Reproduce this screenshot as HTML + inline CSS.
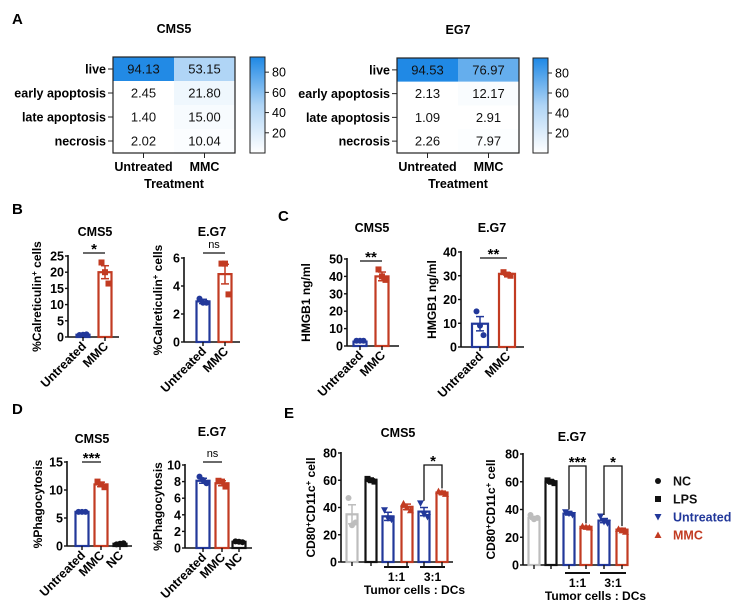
<!DOCTYPE html>
<html><head><meta charset="utf-8"><style>
body{margin:0;background:#fff}
svg{display:block;font-family:"Liberation Sans",Arial,sans-serif}
</style></head><body>
<svg id="fig" width="732" height="608" viewBox="0 0 732 608" xmlns="http://www.w3.org/2000/svg">
<g font-weight="bold" font-size="15">
<text x="12" y="24">A</text>
<text x="12" y="214">B</text>
<text x="278" y="221">C</text>
<text x="12" y="414">D</text>
<text x="284" y="418">E</text>
</g>
<g id="root"></g>
</svg>
<script>
// ---- Heatmap data ----
const hmRows = ["live","early apoptosis","late apoptosis","necrosis"];
const hmCols = ["Untreated","MMC"];
const hmCMS5 = [[94.13,53.15],[2.45,21.80],[1.40,15.00],[2.02,10.04]];
const hmEG7 = [[94.53,76.97],[2.13,12.17],[1.09,2.91],[2.26,7.97]];
const cbTicks = [20,40,60,80];

// ---- Bar chart data ----
const bCatsUM = ["Untreated","MMC"];
const bCMS5Means = [0.7,20];
const bCMS5Pts = [[0.6,0.7,0.8],[23,20,16.5]];
const bCMS5Sem = [0.1,2];
const bEG7Means = [2.9,4.85];
const bEG7Pts = [[3.1,2.8,2.8],[5.6,5.6,3.4]];
const bEG7Sem = [0.15,0.7];
const cCMS5Means = [2.5,40];
const cCMS5Pts = [[3,3,3],[44,40,38]];
const cCMS5Sem = [0.3,2.5];
const cEG7Means = [9.8,30.8];
const cEG7Pts = [[15,9,5],[31.5,30.5,30]];
const cEG7Sem = [3,0.5];
const dCats = ["Untreated","MMC","NC"];
const dCMS5Means = [6.1,11,0.4];
const dCMS5Pts = [[6.1,6.1,6.1],[11.5,11,10.5],[0.3,0.4,0.5]];
const dCMS5Sem = [0.05,0.4,0.1];
const dEG7Means = [8.1,7.8,0.75];
const dEG7Pts = [[8.6,8.2,7.8],[8.1,8,7.4],[0.8,0.75,0.7]];
const dEG7Sem = [0.3,0.3,0.05];
const eCats = ["NC","LPS","Untreated 1:1","MMC 1:1","Untreated 3:1","MMC 3:1"];
const eCMS5Means = [35,60,33.5,40.5,37,51];
const eCMS5Pts = [[47,27,29],[61,60,59],[38,32,31],[43,40,38],[43,35,33],[52,51,50]];
const eCMS5Sem = [7,1,3,2,3,1];
const eEG7Means = [34,60,37,27.5,32,25.5];
const eEG7Pts = [[36,33,34],[61,60,59],[38,37,36],[28,27.5,27],[35,31,30],[26,25,24]];
const eEG7Sem = [1,1,1,0.5,1.5,1];
const legendLabels = ["NC","LPS","Untreated","MMC"];

const NS="http://www.w3.org/2000/svg";
const root=document.getElementById('root');
function mk(tag,attrs,parent){const e=document.createElementNS(NS,tag);for(const k in attrs)e.setAttribute(k,attrs[k]);(parent||root).appendChild(e);return e;}
function txt(s,attrs,parent){const e=mk('text',attrs,parent);e.textContent=s;return e;}

const BLUE="#22389a",RED="#c23b22",GREY="#bdbdbd",BLK="#111";

function heatmap(name,data,g){
  const grp=mk('g',{});
  
  
  const rh=(g.y1-g.y0)/hmRows.length, cw=(g.x1-g.x0)/hmCols.length;
  const col=v=>{const t=Math.pow(Math.min(v/g.vmax,1),1.8);const r=Math.round(255+(30-255)*t),gg=Math.round(255+(136-255)*t),b=Math.round(255+(229-255)*t);return `rgb(${r},${gg},${b})`;};
  data.forEach((row,i)=>row.forEach((v,j)=>{
    const c=mk('rect',{x:g.x0+j*cw,y:g.y0+i*rh,width:cw,height:rh,fill:col(v)},grp);
    
    
    txt(v.toFixed(2),{x:g.x0+(j+0.5)*cw,y:g.y0+(i+0.5)*rh+4.5,'text-anchor':'middle','font-size':13,fill:'#111'},grp);
  }));
  mk('rect',{x:g.x0,y:g.y0,width:g.x1-g.x0,height:g.y1-g.y0,fill:'none',stroke:'#222','stroke-width':1.2},grp);
  hmRows.forEach((r,i)=>{const y=g.y0+(i+0.5)*rh;mk('line',{x1:g.x0-5,x2:g.x0,y1:y,y2:y,stroke:'#222'},grp);
    const t=txt(r,{x:g.x0-7,y:y+4.5,'text-anchor':'end','font-size':12.5,'font-weight':'bold'},grp);
    });
  hmCols.forEach((c,j)=>{const x=g.x0+(j+0.5)*cw;mk('line',{x1:x,x2:x,y1:g.y1,y2:g.y1+5,stroke:'#222'},grp);
    txt(c,{x:x,y:g.y1+18,'text-anchor':'middle','font-size':12.5,'font-weight':'bold'},grp);});
  txt('Treatment',{x:(g.x0+g.x1)/2,y:g.y1+35,'text-anchor':'middle','font-size':12.5,'font-weight':'bold'},grp);
  txt(g.title,{x:(g.x0+g.x1)/2,y:g.y0-24,'text-anchor':'middle','font-size':12.5,'font-weight':'bold'},grp);
  const id='cb'+name;
  const defs=mk('defs',{},grp);const lg=mk('linearGradient',{id:id,x1:0,y1:1,x2:0,y2:0},defs);
  mk('stop',{offset:0,'stop-color':'#fff'},lg);mk('stop',{offset:0.5,'stop-color':'rgb(175,212,245)'},lg);mk('stop',{offset:1,'stop-color':'rgb(30,136,229)'},lg);
  const cb=mk('rect',{x:g.cbx,y:g.y0,width:15,height:g.y1-g.y0,fill:`url(#${id})`,stroke:'#222'},grp);
  
  const sy=v=>g.y1-(v/g.vmax)*(g.y1-g.y0);
  cbTicks.forEach(t=>{mk('line',{x1:g.cbx+15,x2:g.cbx+19,y1:sy(t),y2:sy(t),stroke:'#222'},grp);
    txt(String(t),{x:g.cbx+22,y:sy(t)+4.5,'font-size':12.5},grp);});
}
heatmap('heatmap-cms5',hmCMS5,{x0:113,x1:235,y0:57,y1:153,cbx:250,vmax:95,title:'CMS5'});
heatmap('heatmap-eg7',hmEG7,{x0:397,x1:519,y0:58,y1:153,cbx:533,vmax:95,title:'EG7'});

function marker(kind,x,y,color,parent){
  let m;
  if(kind==='c') m=mk('circle',{cx:x,cy:y,r:3,fill:color},parent);
  else if(kind==='s') m=mk('rect',{x:x-3,y:y-3,width:6,height:6,fill:color},parent);
  else if(kind==='v') m=mk('path',{d:`M${x-3.5},${y-3}L${x+3.5},${y-3}L${x},${y+3.5}Z`,fill:color},parent);
  else m=mk('path',{d:`M${x-3.5},${y+3}L${x+3.5},${y+3}L${x},${y-3.5}Z`,fill:color},parent);
  return m;
}

function barChart(name,cats,means,pts,sems,g){
  const grp=mk('g',{});
  
  
  const sy=v=>g.y0-(v/g.ymax)*(g.y0-g.ytop);
  const ya=mk('line',{x1:g.ax,x2:g.ax,y1:g.ytop-1,y2:g.y0,stroke:'#111','stroke-width':1.6},grp);
  
  mk('line',{x1:g.ax,x2:g.xend,y1:g.y0,y2:g.y0,stroke:'#111','stroke-width':1.6},grp);
  g.ticks.forEach(t=>{mk('line',{x1:g.ax-3,x2:g.ax,y1:sy(t),y2:sy(t),stroke:'#111','stroke-width':1.4},grp);
    txt(String(t),{x:g.ax-4,y:sy(t)+4.5,'text-anchor':'end','font-size':12.5,'font-weight':'bold'},grp);});
  const yl=txt('',{transform:`translate(${g.ylx},${(g.ytop+g.y0)/2}) rotate(-90)`,'text-anchor':'middle','font-size':12,'font-weight':'bold'},grp);
  
  g.ylabel.forEach(p=>{const ts=mk('tspan',p[1]?{'baseline-shift':'super','font-size':8}:{},yl);ts.textContent=p[0];});
  cats.forEach((c,i)=>{
    const cx=g.cx[i],col=g.colors[i],w=g.bw;
    const bar=mk('rect',{x:cx-w/2,y:sy(means[i]),width:w,height:g.y0-sy(means[i]),fill:'#fff',stroke:col,'stroke-width':2.2},grp);
    
    
    const t1=sy(means[i]+sems[i]),t0=sy(means[i]-sems[i]);
    mk('line',{x1:cx,x2:cx,y1:t1,y2:t0,stroke:col,'stroke-width':1.5},grp);
    mk('line',{x1:cx-4,x2:cx+4,y1:t1,y2:t1,stroke:col,'stroke-width':1.5},grp);
    mk('line',{x1:cx-4,x2:cx+4,y1:t0,y2:t0,stroke:col,'stroke-width':1.5},grp);
    pts[i].forEach((v,k)=>{const m=marker(g.marks[i],cx+(k-1)*3.5,sy(v),col,grp);
      
      });
    mk('line',{x1:cx,x2:cx,y1:g.y0,y2:g.y0+4,stroke:'#111','stroke-width':1.4},grp);
    if(g.rotLabels){txt(c,{transform:`translate(${cx+4},${g.y0+10}) rotate(-45)`,'text-anchor':'end','font-size':12.5,'font-weight':'bold'},grp);}
  });
  if(g.title) txt(g.title,{x:g.tx,y:g.ty,'text-anchor':'middle','font-size':12.5,'font-weight':'bold'},grp);
  (g.sig||[]).forEach(s=>{
    const a=g.cx[s[0]],b=g.cx[s[1]];
    if(s[3]){mk('path',{d:`M${a},${sy(s[3][0])}V${s[4]}H${b}V${sy(s[3][1])}`,fill:'none',stroke:'#111','stroke-width':1.3},grp);}
    else mk('line',{x1:a,x2:b,y1:s[4],y2:s[4],stroke:'#111','stroke-width':1.3},grp);
    const ns=s[2]==='ns';
    txt(s[2],{x:(a+b)/2,y:ns?s[4]-5:s[4]+1,'text-anchor':'middle','font-size':ns?11:15,'font-weight':ns?'normal':'bold'},grp);
  });
  return grp;
}
const cal=[["%Calreticulin",0],["+",1],[" cells",0]];
const UM=[BLUE,RED],cs=['c','s'];
barChart('chart-b-cms5',bCatsUM,bCMS5Means,bCMS5Pts,bCMS5Sem,{ax:68,xend:119,ytop:256,y0:337,ymax:25,ticks:[0,5,10,15,20,25],cx:[83,105],bw:13,colors:UM,marks:cs,rotLabels:true,ylabel:cal,ylx:41,title:'CMS5',tx:95,ty:236,sig:[[0,1,'*',null,253]]});
barChart('chart-b-eg7',bCatsUM,bEG7Means,bEG7Pts,bEG7Sem,{ax:184,xend:240,ytop:258,y0:342,ymax:6,ticks:[0,2,4,6],cx:[203,225],bw:13,colors:UM,marks:cs,rotLabels:true,ylabel:cal,ylx:162,title:'E.G7',tx:212,ty:236,sig:[[0,1,'ns',null,253]]});
const hm=[["HMGB1 ng/ml",0]];
barChart('chart-c-cms5',bCatsUM,cCMS5Means,cCMS5Pts,cCMS5Sem,{ax:347,xend:399,ytop:259,y0:346,ymax:50,ticks:[0,10,20,30,40,50],cx:[360,382],bw:13,colors:UM,marks:cs,rotLabels:true,ylabel:hm,ylx:310,title:'CMS5',tx:372,ty:232,sig:[[0,1,'**',null,261]]});
barChart('chart-c-eg7',bCatsUM,cEG7Means,cEG7Pts,cEG7Sem,{ax:461,xend:524,ytop:252,y0:347,ymax:40,ticks:[0,10,20,30,40],cx:[480,507],bw:16,colors:UM,marks:cs,rotLabels:true,ylabel:hm,ylx:436,title:'E.G7',tx:492,ty:232,sig:[[0,1,'**',null,258]]});
const ph=[["%Phagocytosis",0]];
const D3=[BLUE,RED,BLK],dm=['c','s','c'];
barChart('chart-d-cms5',dCats,dCMS5Means,dCMS5Pts,dCMS5Sem,{ax:67,xend:132,ytop:462,y0:546,ymax:15,ticks:[0,5,10,15],cx:[82,101,120],bw:13,colors:D3,marks:dm,rotLabels:true,ylabel:ph,ylx:42,title:'CMS5',tx:92,ty:443,sig:[[0,1,'***',null,462]]});
barChart('chart-d-eg7',dCats,dEG7Means,dEG7Pts,dEG7Sem,{ax:185,xend:252,ytop:465,y0:548,ymax:10,ticks:[0,2,4,6,8,10],cx:[203,222,239],bw:13,colors:D3,marks:dm,rotLabels:true,ylabel:ph,ylx:162,title:'E.G7',tx:212,ty:436,sig:[[0,1,'ns',null,462]]});
const cd=[["CD80",0],["+",1],["CD11c",0],["+",1],[" cell",0]];
const E6=[GREY,BLK,BLUE,RED,BLUE,RED],em=['c','s','v','^','v','^'];
const e1=barChart('chart-e-cms5',eCats,eCMS5Means,eCMS5Pts,eCMS5Sem,{ax:341,xend:453,ytop:453,y0:562,ymax:80,ticks:[0,20,40,60,80],cx:[352,371,388,407,424,442],bw:11,colors:E6,marks:em,rotLabels:false,ylabel:cd,ylx:315,title:'CMS5',tx:398,ty:437,sig:[[4,5,'*',[45,54],465]]});
const e2=barChart('chart-e-eg7',eCats,eEG7Means,eEG7Pts,eEG7Sem,{ax:523,xend:628,ytop:454,y0:565,ymax:80,ticks:[0,20,40,60,80],cx:[534,551,569,586,604,622],bw:11,colors:E6,marks:em,rotLabels:false,ylabel:cd,ylx:495,title:'E.G7',tx:572,ty:441,sig:[[2,3,'***',[40,30],466],[4,5,'*',[36,28],466]]});
function ratioLabels(g,a,b,y){
  [[a,'1:1'],[b,'3:1']].forEach(p=>{mk('line',{x1:p[0][0],x2:p[0][1],y1:y,y2:y,stroke:'#111','stroke-width':2},g);
    txt(p[1],{x:(p[0][0]+p[0][1])/2,y:y+14,'text-anchor':'middle','font-size':12,'font-weight':'bold'},g);});
  txt('Tumor cells : DCs',{x:(a[0]+b[1])/2,y:y+27,'text-anchor':'middle','font-size':12,'font-weight':'bold'},g);
}
ratioLabels(e1,[384,409],[420,445],567);
ratioLabels(e2,[565,590],[600,626],573);
const lgG=mk('g',{});


const lgCol=[BLK,BLK,BLUE,RED],lgM=['c','s','v','^'];
legendLabels.forEach((l,i)=>{const y=481+i*18;
  const ent=mk('g',{},lgG);
  
  
  marker(lgM[i],658,y,lgCol[i],ent);
  txt(l,{x:673,y:y+4.5,'font-size':12.5,'font-weight':'bold',fill:lgCol[i]},ent);});
</script>
</body></html>
